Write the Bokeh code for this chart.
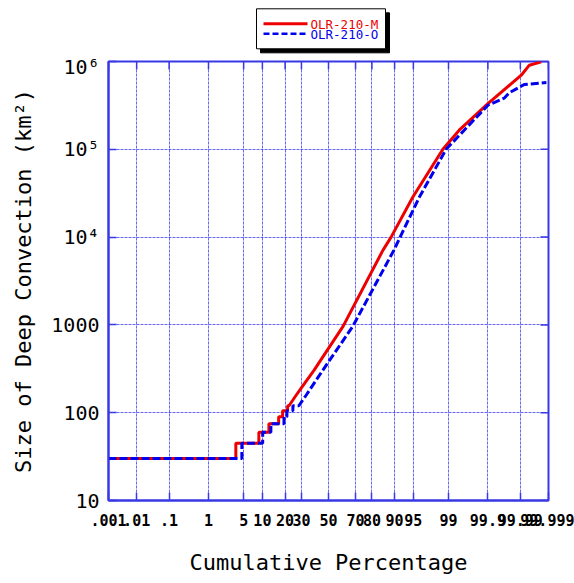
from statistics import NormalDist
from bokeh.plotting import figure
from bokeh.models import FixedTicker, Range1d
from bokeh.layouts import column
from bokeh.embed import file_html
from bokeh.resources import INLINE
from bokeh.core.properties import value

# ---------------- data ----------------
series_names = ["OLR-210-M", "OLR-210-O"]

# cumulative percentage (right end of each flat step) for the smallest sizes
red_step_size = [30, 45, 60, 75, 90, 105, 120]
red_step_pct = [3.62, 8.85, 12.4, 16.7, 18.7, 21.4, 22.2]
red_curve_pct = [26.4, 29.7, 38.9, 61.1, 85.4, 88.75, 94.9, 98.67, 99.436, 99.900, 99.9907, 99.99505, 99.99815]
red_curve_size = [157, 189, 303, 962, 7060, 10000, 28600, 100000, 165000, 332000, 698000, 908000, 990000]

blue_step_size = [30, 45, 60, 75, 90, 105, 120]
blue_step_pct = [4.65, 10.1, 13.2, 19.4, 21.0, 24.5, 28.3]
blue_curve_pct = [33.1, 45.5, 68.1, 89.72, 91.75, 96.1, 98.87, 99.574, 99.900, 99.967, 99.977, 99.9926, 99.9988]
blue_curve_size = [157, 303, 962, 7060, 10000, 28600, 100000, 165000, 318000, 382000, 440000, 547000, 577000]

tick_pct = [0.001, 0.01, 0.1, 1, 5, 10, 20, 30, 50, 70, 80, 90, 95, 99, 99.9, 99.99, 99.999]
tick_labels = [".001", ".01", ".1", "1", "5", "10", "20", "30", "50", "70", "80", "90", "95",
               "99", "99.9", "99.99", "99.999"]
y_ticks = [10, 100, 1000, 10000, 100000, 1000000]
y_tick_labels = ["10", "100", "1000", "10\u2074", "10\u2075", "10\u2076"]

# ---------------- helpers ----------------
nd = NormalDist()


def probit(pct):
    return nd.inv_cdf(pct / 100.0)


def build(step_size, step_pct, curve_pct, curve_size, start_pct):
    xs = [start_pct]
    ys = [step_size[0]]
    for i, (s, pc) in enumerate(zip(step_size, step_pct)):
        xs.append(pc)
        ys.append(s)
        if i + 1 < len(step_size):
            xs.append(pc)
            ys.append(step_size[i + 1])
    xs += curve_pct
    ys += curve_size
    return [probit(v) for v in xs], ys


tick_z = [round(probit(t), 6) for t in tick_pct]
x_over = {z: lab for z, lab in zip(tick_z, tick_labels)}
y_over = {t: lab for t, lab in zip(y_ticks, y_tick_labels)}

RED = "#ee0000"
BLUE = "#0000ee"
FRAME = "#3838e6"
MONO = "DejaVu Sans Mono"

W = 574
BL, BR = 108, 26
LEG_H = 54
MAIN_H = 583 - LEG_H

# ---------------- main figure ----------------
p = figure(width=W, height=MAIN_H,
           x_range=Range1d(tick_z[0], tick_z[-1]),
           y_range=Range1d(10, 1e6), y_axis_type="log",
           output_backend="svg", toolbar_location=None,
           min_border_left=BL, min_border_right=BR,
           min_border_top=7, min_border_bottom=83)
p.background_fill_color = "white"
p.border_fill_color = "white"
p.outline_line_color = FRAME
p.outline_line_width = 2

p.xaxis.ticker = FixedTicker(ticks=tick_z)
p.yaxis.ticker = FixedTicker(ticks=y_ticks)

for ax in [p.xaxis[0], p.yaxis[0]]:
    ax.axis_line_color = FRAME
    ax.axis_line_width = 2
    ax.major_tick_in = 8
    ax.major_tick_out = 0
    ax.major_tick_line_color = FRAME
    ax.major_tick_line_width = 1.5
    ax.minor_tick_line_color = None

bx = p.xaxis[0]
bx.major_label_overrides = x_over
bx.major_label_text_font = MONO
bx.major_label_text_font_style = "bold"
bx.major_label_text_font_size = "15px"
bx.major_label_text_color = "black"
bx.major_label_standoff = 13
bx.axis_label = "Cumulative Percentage"
bx.axis_label_text_font = MONO
bx.axis_label_text_font_style = "normal"
bx.axis_label_text_font_size = "22px"
bx.axis_label_text_color = "black"
bx.axis_label_standoff = 21

ly = p.yaxis[0]
ly.major_label_overrides = y_over
ly.major_label_text_font = MONO
ly.major_label_text_font_size = "20px"
ly.major_label_text_color = "black"
ly.major_label_standoff = 9
ly.axis_label = "Size of Deep Convection (km\u00b2)"
ly.axis_label_text_font = MONO
ly.axis_label_text_font_style = "normal"
ly.axis_label_text_font_size = "22px"
ly.axis_label_text_color = "black"
ly.axis_label_standoff = 12

p.grid.grid_line_color = "#3333ee"
p.grid.grid_line_alpha = 0.75
p.grid.grid_line_dash = "3 1"
p.grid.grid_line_width = 1

# inward tick marks on the top and right edges (half of each dash is clipped by the frame)
p.scatter(x=tick_z, y=[y_ticks[-1]] * len(tick_z), marker="dash", size=16, angle=1.5707963,
          line_color=FRAME, line_width=1.5)
p.scatter(x=[tick_z[-1]] * len(y_ticks), y=y_ticks, marker="dash", size=16,
          line_color=FRAME, line_width=1.5)

rx, ry = build(red_step_size, red_step_pct, red_curve_pct, red_curve_size, tick_pct[0])
bx_, by_ = build(blue_step_size, blue_step_pct, blue_curve_pct, blue_curve_size, tick_pct[0])
p.line(rx, ry, line_color=RED, line_width=3)
p.line(bx_, by_, line_color=BLUE, line_width=3, line_dash="8 3")

# ---------------- legend strip (x in page pixels, y measured down from page top) ----------------
lg = figure(width=W, height=LEG_H, x_range=Range1d(BL, W - BR), y_range=Range1d(0, LEG_H),
            output_backend="svg", toolbar_location=None,
            min_border_left=BL, min_border_right=BR, min_border_top=0, min_border_bottom=0,
            x_axis_location=None, y_axis_location=None)
lg.grid.visible = False
lg.outline_line_color = None
lg.background_fill_color = "white"
lg.border_fill_color = "white"


def Y(v):
    return LEG_H - v


lg.quad(left=[260], right=[389], top=[Y(12.3)], bottom=[Y(52.3)], fill_color="black", line_color="black")
lg.quad(left=[256], right=[385], top=[Y(8.3)], bottom=[Y(48.3)], fill_color="white",
        line_color="black", line_width=1)
lg.segment(x0=[263], y0=[Y(23.3)], x1=[307], y1=[Y(23.3)], line_color=RED, line_width=3)
lg.segment(x0=[263], y0=[Y(33.3)], x1=[307], y1=[Y(33.3)], line_color=BLUE, line_width=2.5,
           line_dash="6 3")
lg.text(x=[310, 310], y=[Y(23.8), Y(33.8)], text=series_names, text_color=[RED, BLUE],
        text_font=value(MONO), text_font_size="12.5px", text_baseline="middle")

layout = column(lg, p)
open("out.html", "w").write(file_html(layout, INLINE))
